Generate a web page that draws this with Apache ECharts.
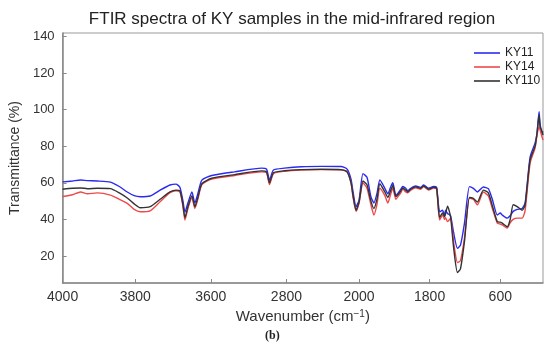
<!DOCTYPE html>
<html>
<head>
<meta charset="utf-8">
<script src="https://cdn.jsdelivr.net/npm/echarts@6/dist/echarts.min.js"></script>
<style>
html,body{margin:0;padding:0;background:#fff;}
#chart{width:550px;height:348px;}
</style>
</head>
<body>
<div id="chart"></div>
<script>
// Tick labels of the (non-linear) wavenumber axis and their positions in axis units
const tickLabels = ['4000', '3800', '3600', '2800', '2000', '1800', '600'];
const tickPos = [0, 0.996, 2.033, 3.070, 4.066, 5.034, 6.003];
const xMax = 6.589;
const yTicks = [20, 40, 60, 80, 100, 120, 140];

// Sample positions along the x axis (axis units)
const xPos = [0.000,0.136,0.246,0.341,0.477,0.655,0.778,0.887,0.982,1.064,1.201,1.337,1.473,1.555,1.610,1.651,1.678,1.719,1.774,1.814,1.855,1.910,2.046,2.360,2.729,2.797,2.838,2.892,3.042,3.274,3.547,3.820,3.902,3.956,3.984,4.025,4.066,4.120,4.175,4.229,4.270,4.311,4.352,4.420,4.461,4.502,4.529,4.570,4.598,4.638,4.666,4.707,4.734,4.775,4.843,4.911,4.952,5.020,5.089,5.130,5.171,5.211,5.239,5.252,5.280,5.321,5.362,5.416,5.457,5.512,5.580,5.634,5.689,5.771,5.839,5.894,5.962,6.003,6.030,6.098,6.139,6.180,6.235,6.303,6.344,6.412,6.480,6.507,6.535,6.548,6.576,6.589];

// Transmittance (%)
const ky11 = [60.5,61,61.5,61.2,61,60.4,58,55,53,52.4,52.8,56,58.8,59.3,57.5,50,44,49,55,49,54,61.5,64,66,68,67.5,61.5,67,68,68.8,69,68.9,67.5,62,55,47,50.6,65,63,52.4,49,54,61.5,57,54,58,60,53.3,54.2,56.5,58,57,55.7,57,58.3,57.5,58.8,57,58,57.5,44.2,45,42,45,43.3,42,33,24.2,26,38,57.9,57,55,57.7,56.8,51,42.4,43.5,42.4,40.7,42,44.4,45.5,46,49,74,81.7,87,98.8,92.6,87,88];
const ky14 = [52.5,53.5,55,54,54.5,53.3,51,48.8,45.5,44.2,44.7,49.7,54.6,55.7,55,47,39.7,46,52,46,51,59,62,64,66,65.5,59,65,66.3,67,67.2,67,66,60,52,44.5,49,60,57,48,42.4,48,57,53,49,54,57,51,52.4,54.5,56.6,55,54.6,56,57.3,56.5,58,56,57.2,56.5,39.7,42.4,40,41,38.8,40.5,28,16.5,17.5,30,51.7,51,48,55,52.8,46,38,37.5,37,35.3,38.2,40,40.7,40.7,45,70.8,79,86,90.7,89,85,83.4];
const ky110 = [56.5,57,57.2,56.8,57,56.8,54.5,51.7,48.5,46.4,47,51,55,56,55.5,48,41,47,53,47,52,59.5,62.5,64.5,66.5,66,60,65.5,66.6,67.2,67.4,67.2,66,60,53,45,49.5,61,59,50,46,51,59.5,55,52,56,58.5,52.5,53.5,55.5,57.2,56,55,56.5,57.8,57,58.3,56.5,57.5,57,41,43.5,41.5,43,47.3,41.5,25,11,13,28,52,51.5,49.5,56,54.5,47.5,38.8,38.5,38,36,40,48,47,45,48,72.5,80,87,97,91,88,86];

const seriesNames = ['KY11', 'KY14', 'KY110'];
const seriesColors = ['#2b2bf0', '#ee4a4a', '#333333'];
const seriesData = [ky11, ky14, ky110];

const chart = echarts.init(document.getElementById('chart'), null, {renderer: 'canvas'});
const font = 'Liberation Sans, Arial, sans-serif';

chart.setOption({
  animation: false,
  backgroundColor: '#ffffff',
  title: {
    text: 'FTIR spectra of KY samples in the mid-infrared region',
    left: 287, top: 6, textAlign: 'center',
    textStyle: {fontFamily: font, fontSize: 17, fontWeight: 'normal', color: '#222'}
  },
  legend: {
    data: seriesNames,
    orient: 'vertical',
    left: 469, top: 42,
    icon: 'rect',
    itemWidth: 26, itemHeight: 1.6, itemGap: 2,
    textStyle: {fontFamily: font, fontSize: 12, color: '#222', padding: [0, 0, 0, 0]}
  },
  grid: {left: 60, right: 7, top: 33, bottom: 65, show: true, borderColor: '#999', borderWidth: 1},
  xAxis: {
    type: 'value', min: 0, max: xMax,
    name: 'Wavenumber (cm{sup|\u22121})',
    nameLocation: 'middle', nameGap: 25,
    nameTextStyle: {fontFamily: font, fontSize: 15, color: '#333',
      rich: {sup: {fontFamily: font, fontSize: 10, color: '#333', verticalAlign: 'top', lineHeight: 10, padding: [0,0,6,0]}}},
    splitLine: {show: false},
    axisLine: {lineStyle: {color: '#888', width: 1.5}},
    axisTick: {show: true, inside: true, length: 4, lineStyle: {color: '#888'}, customValues: tickPos},
    axisLabel: {customValues: tickPos, margin: 7, fontFamily: font, fontSize: 14, color: '#333',
      formatter: function (v) { const i = tickPos.indexOf(v); return i >= 0 ? tickLabels[i] : ''; }}
  },
  yAxis: {
    type: 'value', min: 5.3, max: 141.8,
    name: 'Transmittance (%)',
    nameLocation: 'middle', nameGap: 38,
    nameTextStyle: {fontFamily: font, fontSize: 14, color: '#333'},
    splitLine: {show: false},
    axisLine: {show: true, lineStyle: {color: '#888', width: 1.5}},
    axisTick: {show: true, inside: true, length: 4, lineStyle: {color: '#888'}, customValues: yTicks},
    axisLabel: {customValues: yTicks, margin: 8, fontFamily: font, fontSize: 13, color: '#333'}
  },
  series: seriesNames.map(function (name, k) {
    return {
      name: name, type: 'line', symbol: 'none', smooth: 0.2,
      lineStyle: {width: 1.4, color: seriesColors[k]},
      itemStyle: {color: seriesColors[k]},
      data: xPos.map(function (x, i) { return [x, seriesData[k][i]]; })
    };
  }),
  graphic: [{
    type: 'text', left: 265, top: 330,
    style: {text: '(b)', font: 'bold 12px "Liberation Serif", "DejaVu Serif", serif', fill: '#222'}
  }]
});
</script>
</body>
</html>
